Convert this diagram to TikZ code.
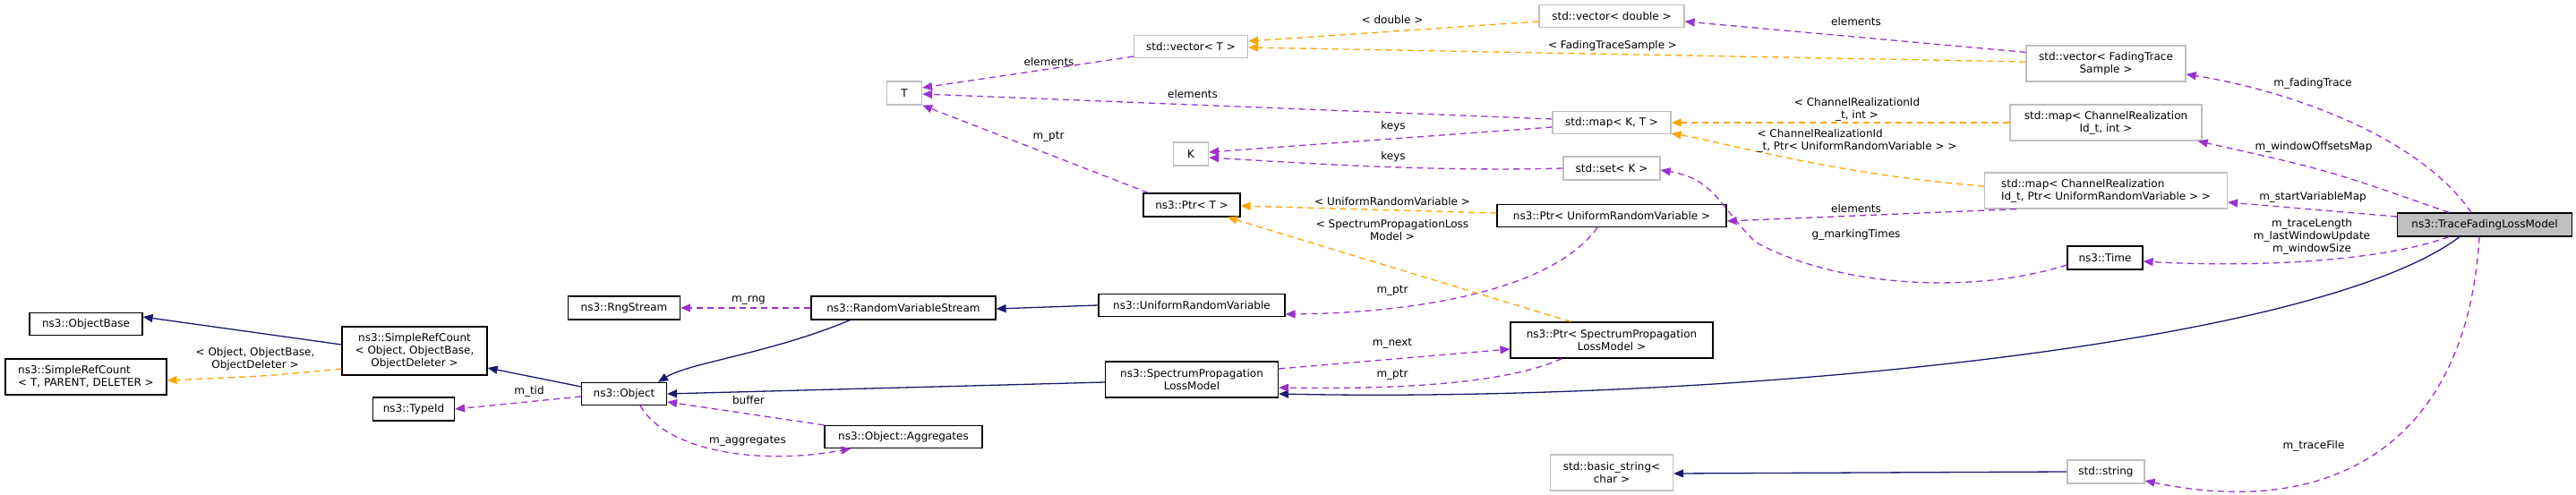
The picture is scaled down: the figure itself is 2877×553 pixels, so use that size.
\documentclass[tikz,border=0pt]{standalone}
\usepackage{fontspec}
\setmainfont{DejaVu Sans}
\usetikzlibrary{arrows.meta}
\definecolor{inh}{HTML}{191970}
\definecolor{use}{HTML}{9A32CD}
\definecolor{tpl}{HTML}{FFA500}
\definecolor{gb}{HTML}{BFBFBF}
\begin{document}
\begin{tikzpicture}[x=1pt,y=-1pt,
  every node/.style={font=\fontsize{12}{14}\selectfont, inner sep=2pt},
  cls/.style={draw=black, line width=1.2pt, align=center, fill=white},
  ext/.style={draw=gb, line width=1.2pt, align=center, fill=white},
  tip/.style={-{Triangle[length=11pt,width=9pt]}},
  ih/.style={tip, draw=inh, line width=1.3pt, -{Triangle[length=11pt,width=9pt,fill=inh]}},
  us/.style={draw=use, line width=1.3pt, dash pattern=on 7pt off 5pt, -{Triangle[length=11pt,width=9pt,fill=use]}},
  tp/.style={draw=tpl, line width=1.3pt, dash pattern=on 7pt off 5pt, -{Triangle[length=11pt,width=9pt,fill=tpl]}},
  lb/.style={align=center, fill=none}]
\useasboundingbox (0,0) rectangle (2877,553);
% nodes
\node[cls, minimum width=126, minimum height=25] (ob) at (96,362) {ns3::ObjectBase};
\node[cls, minimum width=180, minimum height=40, align=left] (srct) at (96,421) {ns3::SimpleRefCount\\< T, PARENT, DELETER >};
\node[cls, minimum width=162, minimum height=54] (srco) at (463,392) {ns3::SimpleRefCount\\< Object, ObjectBase,\\ObjectDeleter >};
\node[cls, minimum width=125, minimum height=26] (rng) at (697,344) {ns3::RngStream};
\node[cls, minimum width=91, minimum height=26] (tid) at (462,457) {ns3::TypeId};
\node[cls, minimum width=95, minimum height=25] (obj) at (697,440) {ns3::Object};
\node[cls, minimum width=206, minimum height=26] (rvs) at (1009,344) {ns3::RandomVariableStream};
\node[cls, minimum width=208, minimum height=25] (urv) at (1331,341) {ns3::UniformRandomVariable};
\node[cls, minimum width=193, minimum height=40] (splm) at (1331,424) {ns3::SpectrumPropagation\\LossModel};
\node[cls, minimum width=176, minimum height=25] (agg) at (1009,488) {ns3::Object::Aggregates};
\node[cls, minimum width=226, minimum height=40] (ptrsplm) at (1800,380) {ns3::Ptr< SpectrumPropagation\\LossModel >};
\node[ext, minimum width=137, minimum height=40] (bstr) at (1800,528) {std::basic\_string<\\char >};
\node[ext, minimum width=162, minimum height=25] (vd) at (1800,18) {std::vector< double >};
\node[ext, minimum width=127, minimum height=25] (vt) at (1330,52) {std::vector< T >};
\node[ext, minimum width=39, minimum height=26] (T) at (1010,104) {T};
\node[ext, minimum width=132, minimum height=25] (mkt) at (1800,137) {std::map< K, T >};
\node[ext, minimum width=39, minimum height=26] (K) at (1330,172) {K};
\node[ext, minimum width=108, minimum height=26] (setk) at (1800,188) {std::set< K >};
\node[cls, minimum width=108, minimum height=26] (ptrt) at (1331,229) {ns3::Ptr< T >};
\node[cls, minimum width=256, minimum height=25] (ptru) at (1800,241) {ns3::Ptr< UniformRandomVariable >};
\node[ext, minimum width=178, minimum height=40] (vfts) at (2352,71) {std::vector< FadingTrace\\Sample >};
\node[ext, minimum width=214, minimum height=40] (mci) at (2352,137) {std::map< ChannelRealization\\Id\_t, int >};
\node[ext, minimum width=271, minimum height=40, align=left] (mcp) at (2352,213) {std::map< ChannelRealization\\Id\_t, Ptr< UniformRandomVariable > >};
\node[cls, fill=gb, minimum width=195, minimum height=26] (tflm) at (2775,251) {ns3::TraceFadingLossModel};
\node[cls, minimum width=84, minimum height=26] (time) at (2351,288) {ns3::Time};
\node[ext, minimum width=86, minimum height=26] (str) at (2352,527) {std::string};
% inheritance
\draw[ih] ([yshift=7pt]srco.west) -- ([yshift=8pt]ob.east);
\draw[ih] ([yshift=8pt]obj.west) -- ([yshift=-19pt]srco.east);
\draw[ih] ([xshift=44pt]rvs.south west) .. controls (860,395) and (770,405) .. ([xshift=38pt]obj.north);
\draw[ih] (urv.west) -- ([yshift=-1pt]rvs.east);
\draw[ih] ([yshift=-3pt]splm.west) -- (obj.east);
\draw[ih] ([xshift=-28pt]tflm.south) .. controls (2580,390) and (1900,450) .. ([yshift=-16pt]splm.east);
\draw[ih] (str.west) -- ([yshift=-1pt]bstr.east);
% usage
\draw[us] ([yshift=2pt]vt.south west) -- ([yshift=6pt]T.east) node[lb, pos=0.4, above=1pt] {elements};
\draw[us] ([yshift=4pt]mkt.west) -- ([yshift=-1pt]T.east);
\node[lb] (l2) at (1332,105) {elements};
\draw[us] ([yshift=-5pt]mkt.west) -- ([yshift=2pt]K.east);
\node[lb] (l3) at (1556,141) {keys};
\draw[us] (setk.west) .. controls (1600,192) and (1450,182) .. ([yshift=-4pt]K.east);
\node[lb] (l4) at (1556,175) {keys};
\draw[us] ([xshift=6pt]ptrt.north west) -- (T.south east);
\node[lb] (l5) at (1171,153) {m\_ptr};
\draw[us] ([yshift=-8pt]vfts.north west) -- ([yshift=-6pt]vd.east);
\node[lb] (l6) at (2073,24) {elements};
\draw[us] ([xshift=36pt]mcp.south west) -- ([yshift=-6pt]ptru.east);
\node[lb] (l7) at (2073,233) {elements};
\draw[us] ([xshift=-16pt]ptru.south) .. controls (1730,330) and (1560,350) .. ([yshift=-10pt]urv.east);
\node[lb] (l8) at (1555,325) {m\_ptr};
\draw[us] ([yshift=-8pt]time.west) .. controls (2200,330) and (2050,320) .. (1960,270) .. controls (1920,230) and (1915,200) .. ([yshift=-2pt]setk.east);
\node[lb] (l9) at (2073,262) {g\_markingTimes};
\draw[us] ([xshift=-15pt]tflm.north) .. controls (2700,150) and (2550,100) .. ([yshift=-12pt]vfts.east);
\node[lb] (l10) at (2583,93) {m\_fadingTrace};
\draw[us] ([xshift=-40pt]tflm.north) .. controls (2600,190) .. ([xshift=-5pt]mci.south east);
\node[lb] (l11) at (2584,164) {m\_windowOffsetsMap};
\draw[us] ([yshift=9pt]tflm.west) -- ([yshift=-13pt]mcp.east);
\node[lb] (l12) at (2583,220) {m\_startVariableMap};
\draw[us] ([xshift=-40pt]tflm.south) .. controls (2650,295) and (2500,298) .. ([yshift=-4pt]time.east);
\node[lb] (l13) at (2582,264) {m\_traceLength\\m\_lastWindowUpdate\\m\_windowSize};
\draw[us] ([xshift=-6pt]tflm.south) .. controls (2755,500) and (2600,580) .. ([yshift=-10pt]str.east);
\node[lb] (l14) at (2584,498) {m\_traceFile};
\draw[us] (rvs.west) -- (rng.east);
\node[lb] (l15) at (836,336) {m\_rng};
\draw[us] ([yshift=-3pt]obj.west) -- (tid.east);
\node[lb] (l16) at (591,437) {m\_tid};
\draw[us] (agg.north west) -- ([yshift=-9pt]obj.east);
\node[lb] (l17) at (836,447) {buffer};
\draw[us] ([xshift=18pt]obj.south) .. controls (745,505) and (850,520) .. ([xshift=30pt]agg.south west);
\node[lb] (l18) at (835,493) {m\_aggregates};
\draw[us] ([yshift=12pt]splm.east) -- ([yshift=-10pt]ptrsplm.west);
\node[lb] (l19) at (1555,384) {m\_next};
\draw[us] ([xshift=58pt]ptrsplm.south west) .. controls (1680,430) and (1550,435) .. ([yshift=-9pt]splm.east);
\node[lb] (l20) at (1555,419) {m\_ptr};
% templates
\draw[tp] ([yshift=-6pt]vd.west) -- ([yshift=6pt]vt.east);
\node[lb] (t1) at (1555,22) {< double >};
\draw[tp] ([yshift=2pt]vfts.west) -- ([yshift=-1pt]vt.east);
\node[lb] (t2) at (1801,51) {< FadingTraceSample >};
\draw[tp] (mci.west) -- (mkt.east);
\node[lb] (t3) at (2074,122) {< ChannelRealizationId\\\_t, int >};
\draw[tp] ([yshift=5pt]mcp.west) .. controls (2050,195) and (1930,160) .. ([yshift=-12pt]mkt.east);
\node[lb, align=left] (t4) at (2074,157) {< ChannelRealizationId\\\_t, Ptr< UniformRandomVariable > >};
\draw[tp] ([yshift=3pt]ptru.west) -- ([yshift=-1pt]ptrt.east);
\node[lb] (t5) at (1555,225) {< UniformRandomVariable >};
\draw[tp] ([xshift=68pt]ptrsplm.north west) -- ([xshift=-15pt]ptrt.south east);
\node[lb] (t6) at (1555,257) {< SpectrumPropagationLoss\\Model >};
\draw[tp] ([yshift=-20pt]srco.west) .. controls (300,420) .. ([yshift=-4pt]srct.east);
\node[lb] (t7) at (285,401) {< Object, ObjectBase,\\ObjectDeleter >};
\end{tikzpicture}
\end{document}
